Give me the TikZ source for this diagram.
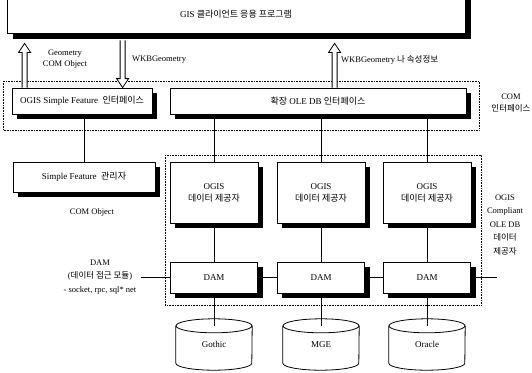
\documentclass[tikz,border=0pt]{standalone}
\usepackage{fontspec}
\setmainfont{Liberation Serif}
\newfontfamily\kor{Noto Sans CJK KR}
\usetikzlibrary{calc}
\newcommand\harrowup[2]{\path[harrow] let \p1=#1, \p2=#2 in (\x1-2.5pt,\y1) -- (\x1-2.5pt,\y2-9pt) -- (\x1-6pt,\y2-9pt) -- (\x1,\y2) -- (\x1+6pt,\y2-9pt) -- (\x1+2.5pt,\y2-9pt) -- (\x1+2.5pt,\y1);}
\newcommand\harrowdown[2]{\path[harrow] let \p1=#1, \p2=#2 in (\x1-2.5pt,\y1) -- (\x1-2.5pt,\y2+9pt) -- (\x1-6pt,\y2+9pt) -- (\x1,\y2) -- (\x1+6pt,\y2+9pt) -- (\x1+2.5pt,\y2+9pt) -- (\x1+2.5pt,\y1);}
% heavy black drop shadow along the right and bottom side of a node
\newcommand\shadowof[2]{%
  \draw[shadowline, line width=#2] ([xshift=#2/2, yshift=-#2]#1.north east) -- ([xshift=#2/2, yshift=-#2/2]#1.south east) -- ([xshift=#2, yshift=-#2/2]#1.south west);}
\begin{document}
\begin{tikzpicture}[x=1pt,y=-1pt,
  box/.style={draw, fill=white, line width=0.8pt, inner sep=0pt, font=\fontsize{9}{11}\selectfont},
  shadowline/.style={draw=black, line cap=butt, line join=miter},
  dotbox/.style={draw, densely dotted, line width=0.6pt},
  conn/.style={draw, line width=0.9pt},
  harrow/.style={draw, line width=0.8pt, fill=white},
  lab/.style={font=\fontsize{8.5}{13.5}\selectfont, align=center, inner sep=0pt},
  cylbox/.style={inner sep=0pt, minimum width=76pt, minimum height=51pt, font=\fontsize{9}{11}\selectfont},
]
\path[use as bounding box] (0,0) rectangle (532,372);

% dotted grouping boxes
\draw[dotbox] (3,81) rectangle (479,130);
\draw[dotbox] (165,155) rectangle (481,305);

% top application box
\node[box, minimum width=458pt, minimum height=44pt] (gis) at (236,11) {\raisebox{-14pt}{GIS {\kor 클라이언트 응용 프로그램}}};

% interface boxes
\node[box, minimum width=140pt, minimum height=26pt] (sfi) at (82,101) {OGIS Simple Feature\ \ {\kor 인터페이스}};
\node[box, minimum width=296pt, minimum height=26pt] (ext) at (318,101) {{\kor 확장} OLE DB {\kor 인터페이스}};

% manager
\node[box, minimum width=142pt, minimum height=30pt] (sfm) at (84,177) {Simple Feature\ \ {\kor 관리자}};

% providers
\foreach \i/\cx in {1/214,2/321,3/427}{
  \node[box, minimum width=88pt, minimum height=61pt, align=center] (p\i) at (\cx,192.5) {OGIS\\[1pt]{\kor 데이터 제공자}};
  \node[box, minimum width=87pt, minimum height=31pt] (d\i) at (\cx,277.5) {DAM};
}

% shadows
\shadowof{gis}{6pt}
\foreach \n in {sfi,ext,sfm,p1,p2,p3,d1,d2,d3}{\shadowof{\n}{5pt}}

\node[cylbox] (c1) at (214,344.5) {\raisebox{-6pt}{Gothic}};
\node[cylbox] (c2) at (321,344.5) {\raisebox{-6pt}{MGE}};
\node[cylbox] (c3) at (427,344.5) {\raisebox{-6pt}{Oracle}};
\foreach \c in {c1,c2,c3}{
  \draw[line width=0.8pt] ([yshift=-7pt]\c.north) ellipse [x radius=38pt, y radius=7pt];
  \draw[line width=0.8pt] ([yshift=-7pt]\c.north west) -- ([yshift=7pt]\c.south west)
     arc[start angle=180, end angle=360, x radius=38pt, y radius=7pt] -- ([yshift=-7pt]\c.north east);
}

% labels
\node[lab] (geo) at (65,59) {Geometry\\[-3pt]COM Object};
\node[lab, anchor=west] (wkb1) at (132,60) {WKBGeometry};
\node[lab, anchor=west] (wkb2) at (341,60) {WKBGeometry {\kor 나 속성정보}};
\node[lab] (comlab) at (511,103) {COM\\[-2pt]{\kor 인터페이스}};
\node[lab] (comobj) at (92,212) {COM Object};
\node[lab] (ogclab) at (505,225) {OGIS\\Compliant\\OLE DB\\{\kor 데이터}\\{\kor 제공자}};
\node[lab] (dlab) at (100,277) {DAM\\({\kor 데이터 접근 모듈})\\- socket, rpc, sql* net};

% hollow arrows
\harrowup{([xshift=13pt]sfi.north west)}{([xshift=18pt,yshift=-10pt]gis.south west)}
\harrowdown{([xshift=116pt,yshift=-7pt]gis.south west)}{([xshift=111pt]sfi.north west)}
\harrowup{([xshift=165pt]ext.north west)}{([xshift=328pt,yshift=-10pt]gis.south west)}

% connectors
\draw[conn] (sfm.north) -- (sfm.north |- sfi.south);
\foreach \i in {1,2,3}{
  \draw[conn] (p\i.north) -- (p\i.north |- ext.south);
  \draw[conn] ([yshift=-5pt]p\i.south) -- (d\i.north);
  \draw[conn] ([yshift=-5pt]d\i.south) -- ([yshift=-7pt]c\i.north);
}
\draw[conn] ([xshift=5pt]d1.east) -- (d2.west);
\draw[conn] ([xshift=5pt]d2.east) -- (d3.west);
\coordinate (dl) at ([xshift=4pt]dlab.east);
\draw[conn] (dl |- d1.west) -- (d1.west);
\coordinate (dr) at (497,277.5);
\draw[conn] ([xshift=5pt]d3.east) -- (dr);
\end{tikzpicture}
\end{document}
